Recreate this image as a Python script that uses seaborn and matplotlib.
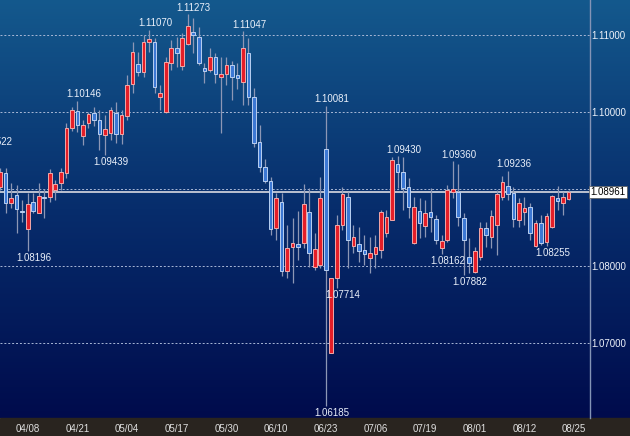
import numpy as np
import pandas as pd
import seaborn as sns
import matplotlib.pyplot as plt
import matplotlib.transforms as mtrans
from matplotlib.colors import LinearSegmentedColormap
from matplotlib.patches import Rectangle

sns.set_style('dark')
plt.rcParams['font.family'] = ['Liberation Sans', 'DejaVu Sans']

# daily candles, 2016-03-30 .. 2016-08-24 (business days)
start_day = '2016-03-30'
opens = [1.09400, 1.09280, 1.09022, 1.09212, 1.08822, 1.08922, 1.08720, 1.08477, 1.08835, 1.08692,
         1.08895, 1.08900, 1.08987, 1.09074, 1.09212, 1.09796, 1.10013, 1.09688, 1.09853, 1.09983,
         1.09896, 1.09705, 1.09723, 1.09991, 1.09710, 1.09948, 1.10360, 1.10620, 1.10516, 1.10913,
         1.10913, 1.10199, 1.10004, 1.10632, 1.10827, 1.10601, 1.10883, 1.11043, 1.10970, 1.10575,
         1.10545, 1.10710, 1.10458, 1.10494, 1.10610, 1.10481, 1.10386, 1.10762, 1.10199, 1.09614,
         1.09282, 1.09104, 1.08490, 1.08827, 1.07939, 1.08243, 1.08282, 1.08295, 1.08705, 1.07991,
         1.08013, 1.09519, 1.06870, 1.07844, 1.08532, 1.08900, 1.08264, 1.08286, 1.08208, 1.08100,
         1.08156, 1.08208, 1.08432, 1.08597, 1.09321, 1.09217, 1.09022, 1.08295, 1.08714, 1.08520,
         1.08705, 1.08610, 1.08230, 1.08338, 1.08965, 1.08965, 1.08627, 1.08121, 1.07926, 1.08121,
         1.08490, 1.08381, 1.08532, 1.08892, 1.09039, 1.08952, 1.08597, 1.08705, 1.08770, 1.08264,
         1.08555, 1.08316, 1.08503, 1.08887, 1.08822, 1.08874]
highs = [1.09522, 1.09400, 1.09273, 1.09273, 1.09078, 1.09052, 1.08857, 1.08952, 1.08952, 1.09078,
         1.09000, 1.09260, 1.09117, 1.09273, 1.09857, 1.10061, 1.10146, 1.09896, 1.10004, 1.10069,
         1.10026, 1.09961, 1.10069, 1.10134, 1.10026, 1.10481, 1.10913, 1.10783, 1.11000, 1.11070,
         1.10957, 1.10351, 1.10718, 1.10935, 1.10978, 1.11022, 1.11273, 1.11217, 1.11108, 1.10632,
         1.10827, 1.10762, 1.10718, 1.10710, 1.10666, 1.10632, 1.11047, 1.10957, 1.10308, 1.09831,
         1.09386, 1.09160, 1.08952, 1.08952, 1.08532, 1.08619, 1.08714, 1.09061, 1.09009, 1.08429,
         1.09160, 1.10081, 1.07844, 1.08662, 1.09030, 1.08965, 1.08532, 1.08510, 1.08403, 1.08381,
         1.08403, 1.08727, 1.08727, 1.09412, 1.09430, 1.09412, 1.09139, 1.08892, 1.08879, 1.08857,
         1.09009, 1.08662, 1.08403, 1.09052, 1.09360, 1.09325, 1.08684, 1.08360, 1.08251, 1.08575,
         1.08575, 1.08727, 1.08987, 1.09169, 1.09236, 1.09022, 1.08879, 1.08900, 1.08814, 1.08597,
         1.08662, 1.08684, 1.08922, 1.09039, 1.08965, 1.08987]
lows = [1.09180, 1.08950, 1.08987, 1.08688, 1.08753, 1.08425, 1.08575, 1.08196, 1.08684, 1.08688,
        1.08623, 1.08835, 1.08857, 1.08987, 1.09143, 1.09753, 1.09744, 1.09571, 1.09788, 1.09818,
        1.09506, 1.09439, 1.09636, 1.09594, 1.09584, 1.09896, 1.10251, 1.10468, 1.10458, 1.10783,
        1.10251, 1.10026, 1.09983, 1.10545, 1.10588, 1.10545, 1.10870, 1.10762, 1.10610, 1.10373,
        1.10523, 1.10373, 1.09723, 1.10351, 1.10156, 1.10295, 1.10091, 1.10091, 1.09549, 1.09225,
        1.09074, 1.08403, 1.08338, 1.07870, 1.07844, 1.07779, 1.08078, 1.08230, 1.07991, 1.07948,
        1.07970, 1.06185, 1.06870, 1.07714, 1.08468, 1.07970, 1.08165, 1.08056, 1.08013, 1.07905,
        1.07970, 1.08100, 1.08381, 1.08597, 1.09009, 1.08727, 1.08619, 1.08286, 1.08360, 1.08381,
        1.08445, 1.08286, 1.08162, 1.08316, 1.08879, 1.08520, 1.07882, 1.07905, 1.07905, 1.08078,
        1.08251, 1.08230, 1.08143, 1.08857, 1.08857, 1.08510, 1.08510, 1.08532, 1.08338, 1.08251,
        1.08273, 1.08255, 1.08490, 1.08727, 1.08662, 1.08857]
closes = [1.09280, 1.09020, 1.09225, 1.08822, 1.08887, 1.08736, 1.08705, 1.08801, 1.08718, 1.08913,
          1.08880, 1.09204, 1.09065, 1.09225, 1.09796, 1.10026, 1.09831, 1.09831, 1.09970, 1.09896,
          1.09714, 1.09779, 1.10026, 1.09710, 1.09961, 1.10351, 1.10783, 1.10516, 1.10913, 1.10944,
          1.10321, 1.10243, 1.10653, 1.10827, 1.10762, 1.10957, 1.11117, 1.11000, 1.10632, 1.10536,
          1.10710, 1.10494, 1.10490, 1.10610, 1.10458, 1.10438, 1.10827, 1.10199, 1.09594, 1.09290,
          1.09104, 1.08477, 1.08879, 1.07939, 1.08230, 1.08295, 1.08243, 1.08805, 1.08165, 1.08221,
          1.08879, 1.07948, 1.07844, 1.08532, 1.08931, 1.08338, 1.08373, 1.08199, 1.08156, 1.08165,
          1.08243, 1.08705, 1.08632, 1.09377, 1.09217, 1.09009, 1.08762, 1.08762, 1.08555, 1.08684,
          1.08640, 1.08338, 1.08329, 1.08987, 1.08996, 1.08640, 1.08338, 1.08035, 1.08199, 1.08497,
          1.08403, 1.08653, 1.08935, 1.09095, 1.08935, 1.08606, 1.08814, 1.08757, 1.08425, 1.08562,
          1.08295, 1.08649, 1.08909, 1.08848, 1.08892, 1.08961]

# swing points that carry a price label
high_marks = ['2016-03-30', '2016-04-21', '2016-05-10', '2016-05-19', '2016-06-02',
              '2016-06-23', '2016-07-12', '2016-07-26', '2016-08-09']
low_marks = ['2016-04-08', '2016-04-28', '2016-06-23', '2016-06-27', '2016-07-22',
             '2016-07-28', '2016-08-18']
price_levels = [1.07, 1.08, 1.09, 1.10, 1.11]

days = pd.bdate_range(start_day, periods=len(opens) + 1)
df = pd.DataFrame({'open': opens, 'high': highs, 'low': lows, 'close': closes},
                  index=days[:len(opens)])
df['pos'] = np.arange(len(df))
df['up'] = df['close'] >= df['open']

W, H = 630, 436
fig = plt.figure(figsize=(W / 100, H / 100), dpi=100)
bar_h = 18 / H

# background gradient + bottom date band
bg = fig.add_axes([0, bar_h, 1, 1 - bar_h], zorder=-5)
cmap = LinearSegmentedColormap.from_list('bg', ['#000b4c', '#072d6c', '#14598d'])
bg.imshow(np.linspace(0, 1, 256).reshape(-1, 1), origin='lower', aspect='auto',
          cmap=cmap, extent=[0, 1, 0, 1])
bg.axis('off')
fig.patches.append(Rectangle((0, 0), 1, bar_h, transform=fig.transFigure,
                             color='#29241f', zorder=-5))

ax = fig.add_axes([0, bar_h, 590 / W, 1 - bar_h])
ax.set_facecolor('none')

# candles
ax.vlines(df['pos'], df['low'], df['high'], color='#8d97b5', lw=0.9, zorder=2)
body_lo = np.minimum(df['open'], df['close'])
body_h = (df['close'] - df['open']).abs()
fill = np.where(df['up'], '#e41e28', '#3c78d4')
edge = np.where(df['up'], '#f2a8a8', '#b9d0f2')
ax.bar(df['pos'], body_h, bottom=body_lo, width=0.66, color=fill,
       edgecolor=edge, linewidth=0.7, zorder=3)

# grid, current price
for lv in price_levels:
    ax.axhline(lv, color='#a9b8d6', lw=0.7, ls=(0, (2, 2)), zorder=1)
last = df['close'].iloc[-1]
ax.axhline(last, color='#c9cdd8', lw=1.3, zorder=1.5)

# swing labels
for d in high_marks:
    r = df.loc[d]
    ax.annotate(f"{r['high']:.5f}", (r['pos'], r['high']), xytext=(4.3, 1),
                textcoords='offset points', ha='center', va='bottom',
                color='#eaf0fa', fontsize=7, annotation_clip=False)
for d in low_marks:
    r = df.loc[d]
    ax.annotate(f"{r['low']:.5f}", (r['pos'], r['low']), xytext=(4.3, -1.5),
                textcoords='offset points', ha='center', va='top',
                color='#eaf0fa', fontsize=7, annotation_clip=False)

# axes
first = df.index.get_loc(pd.Timestamp('2016-04-08'))
ax.set_xlim(first - 5.02, first + 101.87)
ax.set_ylim(1.06026, 1.11455)
tick_pos = np.arange(first, len(days), 9)
ax.set_xticks(tick_pos)
ax.set_xticklabels([days[p].strftime('%m/%d') for p in tick_pos])
ax.tick_params(axis='x', length=0, pad=4, colors='#e0e0e0', labelsize=7)

# the level hidden under the current-price box gets no label
ax.yaxis.tick_right()
ax.set_yticks(price_levels)
ax.set_yticklabels(['' if abs(v - last) < 0.001 else f'{v:.5f}' for v in price_levels])
ax.tick_params(axis='y', length=0, pad=1, colors='#eef2fa', labelsize=7)
ax.grid(False)
for s in ['left', 'top', 'bottom']:
    ax.spines[s].set_visible(False)
ax.spines['right'].set_color('#8494b6')
ax.spines['right'].set_linewidth(1)

trans = mtrans.blended_transform_factory(ax.transAxes, ax.transData)
ax.text(1.0, last, f'{last:.5f}', transform=trans, ha='left', va='center',
        fontsize=7, color='black', zorder=10,
        bbox=dict(boxstyle='square,pad=0.15', fc='white', ec='#555555', lw=0.5))

fig.savefig('out.png', dpi=100)
